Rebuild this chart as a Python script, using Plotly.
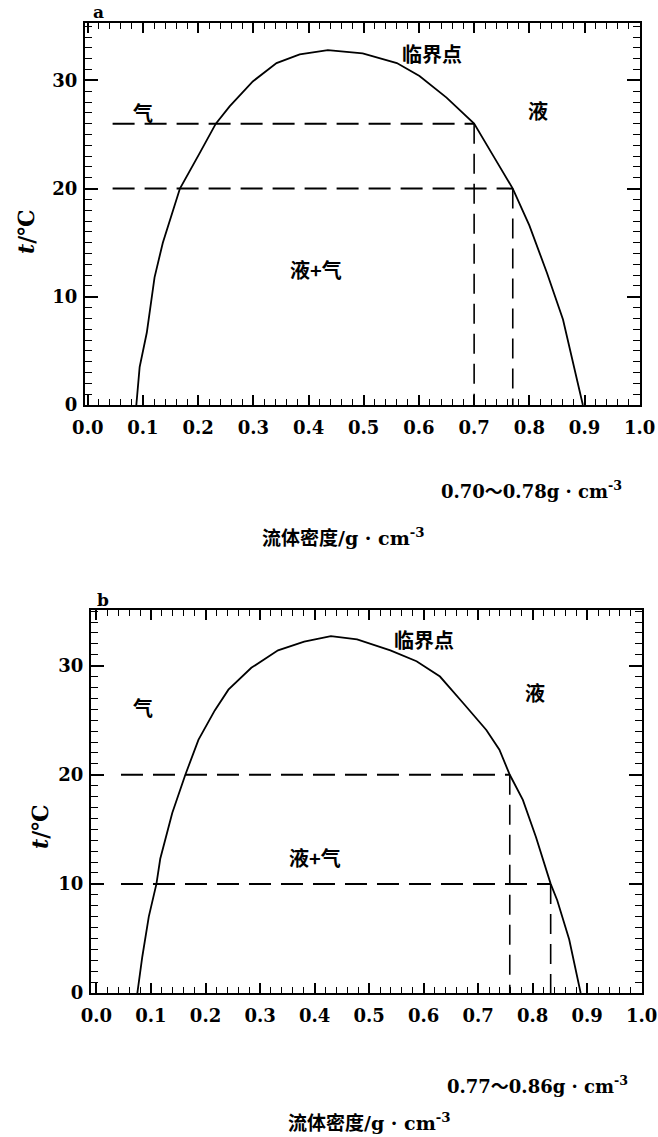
import plotly.graph_objects as go

W, H = 658, 1137

# ---------------- data ----------------
# panel a: coexistence curve (density g/cm3, temperature C)
a_density = [0.088, 0.094, 0.107, 0.121, 0.136, 0.167, 0.203, 0.232, 0.257, 0.299,
             0.342, 0.384, 0.435, 0.498, 0.560, 0.601, 0.650, 0.700, 0.735, 0.770,
             0.800, 0.832, 0.861, 0.897]
a_temp = [0.0, 3.5, 6.7, 11.8, 15.0, 20.0, 23.3, 26.0, 27.6, 29.9,
          31.6, 32.4, 32.8, 32.5, 31.6, 30.4, 28.4, 26.0, 23.0, 20.0,
          16.6, 12.2, 7.9, 0.0]
a_tie_temp = [26.0, 20.0]          # horizontal dashed isotherms
a_tie_dens = [0.70, 0.77]          # vertical dashed densities
a_range_text = "0.70～0.78g · cm<sup>-3</sup>"

# panel b
b_density = [0.075, 0.084, 0.096, 0.110, 0.117, 0.139, 0.163, 0.187, 0.217, 0.242,
             0.284, 0.333, 0.381, 0.430, 0.478, 0.539, 0.587, 0.630, 0.672, 0.715,
             0.739, 0.758, 0.782, 0.806, 0.833, 0.845, 0.867, 0.888]
b_temp = [0.0, 3.3, 7.0, 10.0, 12.3, 16.5, 20.0, 23.2, 25.9, 27.8,
          29.8, 31.4, 32.2, 32.7, 32.4, 31.4, 30.4, 29.0, 26.6, 24.1,
          22.3, 20.0, 17.7, 14.3, 10.0, 8.5, 4.9, 0.0]
b_tie_temp = [20.0, 10.0]
b_tie_dens = [0.758, 0.833]
b_range_text = "0.77～0.86g · cm<sup>-3</sup>"

tie_start = 0.045
x_tick_step = 0.1
y_tick_step = 10

region_labels = ["气", "液", "临界点", "液+气"]
a_label_pos = [(0.10, 27.0), (0.815, 27.2), (0.623, 32.5), (0.413, 12.5)]
b_label_pos = [(0.086, 26.2), (0.805, 27.5), (0.601, 32.4), (0.40, 12.4)]

x_title = "流体密度/g · cm<sup>-3</sup>"
y_title = "<i>t</i>/℃"

# ---------------- figure ----------------
fig = go.Figure()
SERIF = "DejaVu Serif"
MIXED = "DejaVu Serif, Noto Sans CJK SC"
CJK = "Noto Sans CJK SC"


def add_panel(xa, ya, dens, temp, tie_t, tie_d):
    fig.add_trace(go.Scatter(x=dens, y=temp, mode="lines", xaxis=xa, yaxis=ya,
                             line=dict(color="black", width=1.8), showlegend=False,
                             hoverinfo="skip"))
    for t, d in zip(tie_t, tie_d):
        fig.add_trace(go.Scatter(x=[tie_start, d], y=[t, t], mode="lines", xaxis=xa, yaxis=ya,
                                 line=dict(color="black", width=2, dash="22px,10px"),
                                 showlegend=False, hoverinfo="skip"))
        fig.add_trace(go.Scatter(x=[d, d], y=[t, 0], mode="lines", xaxis=xa, yaxis=ya,
                                 line=dict(color="black", width=1.6, dash="20px,10px"),
                                 showlegend=False, hoverinfo="skip"))


add_panel("x", "y", a_density, a_temp, a_tie_temp, a_tie_dens)
add_panel("x2", "y2", b_density, b_temp, b_tie_temp, b_tie_dens)


def xax(domain, rng, anchor):
    return dict(domain=domain, range=rng, anchor=anchor, automargin=False,
                showline=True, linecolor="black", ticklabeloverflow="allow",
                linewidth=2, mirror="allticks", ticks="inside", ticklen=10, tickwidth=1.5,
                tickcolor="black", tickmode="linear", tick0=0, dtick=x_tick_step,
                tickformat=".1f", ticklabelstandoff=5,
                tickfont=dict(family=SERIF, size=18, color="black", weight="bold"),
                minor=dict(tickmode="linear", tick0=0, dtick=0.02, ticks="inside",
                           ticklen=6, tickwidth=1.2, tickcolor="black"),
                showgrid=False, zeroline=False, fixedrange=True)


def yax(domain, rng, anchor):
    return dict(domain=domain, range=rng, anchor=anchor, automargin=False,
                showline=True, linecolor="black", ticklabeloverflow="allow",
                linewidth=2, mirror="allticks", ticks="inside", ticklen=13, tickwidth=1.5,
                tickcolor="black", tickmode="linear", tick0=0, dtick=y_tick_step,
                ticklabelstandoff=2,
                tickfont=dict(family=SERIF, size=18, color="black", weight="bold"),
                minor=dict(tickmode="linear", tick0=0, dtick=1, ticks="inside",
                           ticklen=7, tickwidth=1.2, tickcolor="black"),
                showgrid=False, zeroline=False, fixedrange=True)


def px_x(p):
    return p / W


def px_y(p):
    return 1 - p / H


fig.update_layout(
    template="none",
    width=W, height=H, margin=dict(l=0, r=0, t=0, b=0, autoexpand=False),
    paper_bgcolor="white", plot_bgcolor="white", showlegend=False,
    xaxis=xax([px_x(85), px_x(640)], [-0.005, 1.0005], "y"),
    yaxis=yax([px_y(405), px_y(23)], [0, 35.3], "x"),
    xaxis2=xax([px_x(91), px_x(642)], [-0.01, 1.0005], "y2"),
    yaxis2=yax([px_y(993), px_y(610)], [0, 35.1], "x2"),
)

ann = []
for txt, (x, y) in zip(region_labels, a_label_pos):
    ann.append(dict(text=txt, x=x, y=y, xref="x", yref="y", showarrow=False,
                    font=dict(family=CJK, size=20, color="black", weight="bold")))
for txt, (x, y) in zip(region_labels, b_label_pos):
    ann.append(dict(text=txt, x=x, y=y, xref="x2", yref="y2", showarrow=False,
                    font=dict(family=CJK, size=20, color="black", weight="bold")))

paper_texts = [
    ("a", 98, 12, 17, 0),
    ("b", 103, 600, 17, 0),
    (a_range_text, 531, 490, 18, 0),
    (b_range_text, 537, 1085, 18, 0),
    (x_title, 343, 537, 19, 0),
    (x_title, 369, 1122, 19, 0),
    (y_title, 26, 232, 22, -90),
    (y_title, 40, 827, 22, -90),
]
for txt, px, py, fs, ang in paper_texts:
    ann.append(dict(text=txt, x=px_x(px), y=px_y(py), xref="paper", yref="paper",
                    showarrow=False, textangle=ang, xanchor="center", yanchor="middle",
                    font=dict(family=MIXED, size=fs, color="black", weight="bold")))

fig.update_layout(annotations=ann)
fig.write_html("out.html")
